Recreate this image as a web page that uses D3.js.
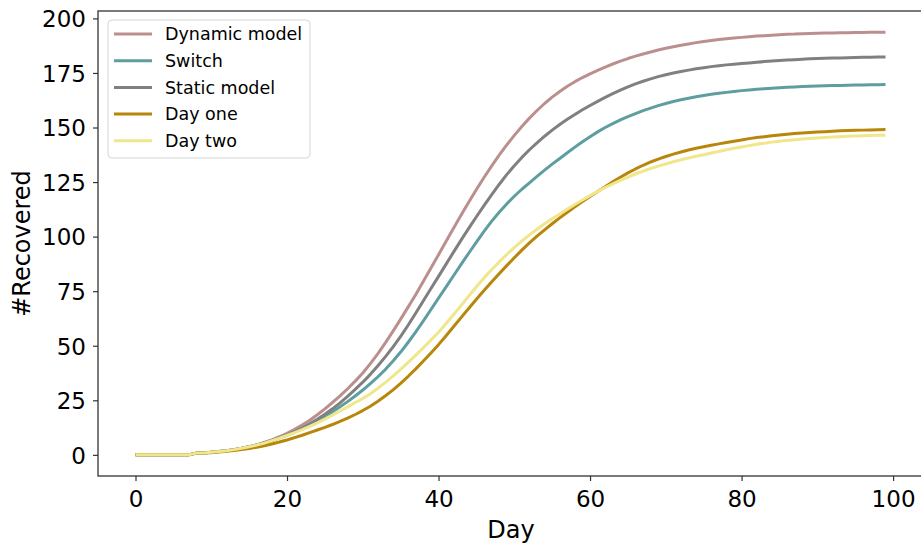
<!DOCTYPE html>
<html>
<head>
<meta charset="utf-8">
<script src="https://cdn.jsdelivr.net/npm/d3@7"></script>
<style>
  html, body { margin: 0; padding: 0; background: #ffffff; }
  svg { display: block; font-family: "DejaVu Sans", sans-serif; }
</style>
</head>
<body>
<div id="chart"></div>
<script>
// Cumulative recovered counts per day (days 0..99) for each scenario.
const days = d3.range(0, 100);

const dynamicModel = [
  0, 0, 0, 0, 0, 0, 0, 0, 0.8, 0.9,
  1.2, 1.5, 1.9, 2.4, 3.0, 3.7, 4.6, 5.7, 6.9, 8.3,
  9.9, 11.7, 13.7, 15.9, 18.4, 21.1, 24.0, 27.0, 30.3, 33.8,
  37.5, 41.8, 46.4, 51.4, 56.7, 62.2, 67.8, 73.5, 79.6, 85.6,
  91.7, 97.9, 104.0, 110.0, 115.9, 121.6, 127.1, 132.3, 137.3, 142.0,
  146.4, 150.5, 154.3, 157.8, 161.0, 163.9, 166.5, 168.9, 171.0, 172.9,
  174.6, 176.2, 177.7, 179.1, 180.4, 181.6, 182.7, 183.7, 184.6, 185.5,
  186.3, 187.0, 187.7, 188.3, 188.9, 189.4, 189.9, 190.3, 190.7, 191.0,
  191.3, 191.6, 191.9, 192.1, 192.3, 192.5, 192.7, 192.8, 193.0, 193.1,
  193.2, 193.3, 193.3, 193.4, 193.4, 193.5, 193.5, 193.6, 193.6, 193.7
];

const switchModel = [
  0, 0, 0, 0, 0, 0, 0, 0, 0.8, 0.9,
  1.2, 1.5, 1.9, 2.4, 3.0, 3.7, 4.5, 5.5, 6.6, 7.8,
  9.0, 10.4, 12.0, 13.7, 15.6, 17.6, 19.7, 22.0, 24.4, 27.0,
  29.7, 32.6, 35.8, 39.2, 43.0, 47.1, 51.6, 56.4, 61.4, 66.6,
  71.8, 77.0, 82.2, 87.4, 92.5, 97.5, 102.4, 107.0, 111.2, 115.0,
  118.5, 121.7, 124.6, 127.6, 130.5, 133.2, 135.8, 138.4, 141.0, 143.5,
  145.8, 148.0, 150.0, 151.8, 153.5, 155.0, 156.4, 157.7, 158.9, 160.0,
  161.0, 161.9, 162.7, 163.4, 164.1, 164.7, 165.2, 165.7, 166.1, 166.5,
  166.9, 167.2, 167.5, 167.8, 168.0, 168.2, 168.4, 168.6, 168.8, 168.9,
  169.0, 169.1, 169.2, 169.3, 169.4, 169.5, 169.5, 169.6, 169.6, 169.7
];

const staticModel = [
  0, 0, 0, 0, 0, 0, 0, 0, 0.8, 0.9,
  1.2, 1.5, 1.9, 2.4, 3.0, 3.7, 4.5, 5.5, 6.6, 7.8,
  9.1, 10.6, 12.3, 14.2, 16.3, 18.6, 21.1, 23.8, 26.8, 30.0,
  33.3, 36.9, 40.8, 45.0, 49.5, 54.3, 59.5, 65.0, 70.6, 76.2,
  81.8, 87.4, 93.0, 98.5, 103.9, 109.1, 114.2, 119.1, 123.9, 128.4,
  132.5, 136.3, 139.8, 143.0, 146.0, 148.8, 151.4, 153.8, 156.0, 158.1,
  160.1, 162.0, 163.8, 165.5, 167.1, 168.6, 170.0, 171.2, 172.3, 173.3,
  174.2, 175.0, 175.7, 176.3, 176.9, 177.4, 177.9, 178.3, 178.7, 179.0,
  179.3, 179.6, 179.9, 180.2, 180.5, 180.7, 180.9, 181.1, 181.3, 181.5,
  181.6, 181.7, 181.8, 181.9, 182.0, 182.1, 182.2, 182.2, 182.3, 182.3
];

const dayOne = [
  0, 0, 0, 0, 0, 0, 0, 0, 0.7, 0.8,
  1.0, 1.3, 1.6, 2.0, 2.4, 2.9, 3.5, 4.2, 5.0, 5.9,
  6.8, 7.9, 9.0, 10.2, 11.4, 12.6, 13.9, 15.3, 16.8, 18.5,
  20.3, 22.3, 24.6, 27.1, 29.8, 32.8, 36.0, 39.4, 43.0, 46.7,
  50.5, 54.6, 58.8, 63.0, 67.2, 71.3, 75.3, 79.2, 83.0, 86.7,
  90.3, 93.8, 97.1, 100.2, 103.1, 105.9, 108.6, 111.2, 113.7, 116.1,
  118.4, 120.7, 122.9, 125.1, 127.2, 129.2, 131.0, 132.7, 134.2, 135.5,
  136.7, 137.8, 138.8, 139.7, 140.5, 141.2, 141.9, 142.5, 143.1, 143.7,
  144.3, 144.9, 145.4, 145.8, 146.2, 146.6, 146.9, 147.2, 147.5, 147.7,
  147.9, 148.1, 148.3, 148.5, 148.6, 148.7, 148.8, 148.9, 149.0, 149.1
];

const dayTwo = [
  0, 0, 0, 0, 0, 0, 0, 0, 0.8, 0.9,
  1.2, 1.5, 1.9, 2.4, 3.0, 3.7, 4.5, 5.4, 6.5, 7.6,
  8.9, 10.2, 11.6, 13.1, 14.7, 16.4, 18.2, 20.1, 22.0, 24.0,
  25.8, 28.0, 30.5, 33.2, 36.1, 39.2, 42.4, 45.7, 49.1, 52.6,
  56.2, 60.2, 64.3, 68.5, 72.8, 77.0, 81.0, 84.8, 88.4, 91.8,
  95.0, 98.0, 100.8, 103.4, 105.9, 108.2, 110.4, 112.6, 114.7, 116.8,
  118.8, 120.7, 122.5, 124.2, 125.8, 127.3, 128.7, 130.0, 131.2, 132.3,
  133.3, 134.3, 135.2, 136.0, 136.8, 137.5, 138.3, 139.0, 139.8, 140.5,
  141.1, 141.7, 142.3, 142.8, 143.3, 143.7, 144.1, 144.4, 144.7, 145.0,
  145.2, 145.4, 145.6, 145.8, 146.0, 146.1, 146.2, 146.3, 146.4, 146.5
];

const seriesNames = ["Dynamic model", "Switch", "Static model", "Day one", "Day two"];
const seriesValues = [dynamicModel, switchModel, staticModel, dayOne, dayTwo];
const seriesColors = ["#bc8f8f", "#5f9ea0", "#808080", "#b8860b", "#f0e68c"];

const xTicks = [0, 20, 40, 60, 80, 100];
const yTicks = [0, 25, 50, 75, 100, 125, 150, 175, 200];

const xLabel = "Day";
const yLabel = "#Recovered";

// ---- layout ----
const W = 921, H = 544;
const plot = { left: 98, top: 11, right: 923, bottom: 476 };

const svg = d3.select("#chart").append("svg")
  .attr("width", W).attr("height", H);

// Axis limits padded by 5% of the data span on each side
const xMin = d3.min(days), xMax = d3.max(days);
const xPad = (xMax - xMin) * 0.05;
const allVals = seriesValues.flat();
const yMin = d3.min(allVals), yMax = d3.max(allVals);
const yPad = (yMax - yMin) * 0.05;

const x = d3.scaleLinear().domain([xMin - xPad, xMax + xPad]).range([plot.left, plot.right]);
const y = d3.scaleLinear().domain([yMin - yPad, yMax + yPad]).range([plot.bottom, plot.top]);

const spineColor = "#333333";
const tickFont = 23;

// ---- lines ----
const line = d3.line()
  .x((d, i) => x(days[i]))
  .y(d => y(d));

const linesG = svg.append("g");
seriesValues.forEach((vals, k) => {
  linesG.append("path")
    .datum(vals)
    .attr("d", line)
    .attr("fill", "none")
    .attr("stroke", seriesColors[k])
    .attr("stroke-width", 3)
    .attr("stroke-linejoin", "round")
    .attr("stroke-linecap", "butt");
});

// ---- axes ----
const xAxis = d3.axisBottom(x).tickValues(xTicks).tickSize(5).tickFormat(d3.format("d"));
const yAxis = d3.axisLeft(y).tickValues(yTicks).tickSize(5).tickPadding(7).tickFormat(d3.format("d"));

const gx = svg.append("g").attr("transform", `translate(0,${plot.bottom})`).call(xAxis);
const gy = svg.append("g").attr("transform", `translate(${plot.left},0)`).call(yAxis);

[gx, gy].forEach(g => {
  g.select(".domain").remove();
  g.selectAll(".tick line").attr("stroke", spineColor).attr("stroke-width", 1.2);
  g.selectAll(".tick text")
    .attr("fill", "#000")
    .style("font-family", "'DejaVu Sans', sans-serif")
    .style("font-size", tickFont + "px");
});
gx.selectAll(".tick text").attr("y", 31).attr("dy", 0);
gy.selectAll(".tick text").attr("dy", "0.36em");

// spines (full frame)
svg.append("rect")
  .attr("x", plot.left).attr("y", plot.top)
  .attr("width", plot.right - plot.left).attr("height", plot.bottom - plot.top)
  .attr("fill", "none").attr("stroke", spineColor).attr("stroke-width", 1.3);

// ---- axis titles ----
svg.append("text")
  .attr("x", 511)
  .attr("y", 538)
  .attr("text-anchor", "middle")
  .style("font-size", "24px")
  .attr("fill", "#000")
  .text(xLabel);

svg.append("text")
  .attr("transform", `translate(30,${(plot.top + plot.bottom) / 2}) rotate(-90)`)
  .attr("text-anchor", "middle")
  .style("font-size", "24px")
  .attr("fill", "#000")
  .text(yLabel);

// ---- legend ----
const leg = svg.append("g").attr("transform", "translate(108,20)");
const rowH = 26.7;
leg.append("rect")
  .attr("x", 0).attr("y", 0)
  .attr("width", 202).attr("height", 138)
  .attr("rx", 4).attr("ry", 4)
  .attr("fill", "#ffffff").attr("fill-opacity", 0.8)
  .attr("stroke", "#d6d6d6").attr("stroke-width", 1);

seriesNames.forEach((name, k) => {
  const cy = 14 + k * rowH;
  leg.append("line")
    .attr("x1", 6).attr("x2", 44)
    .attr("y1", cy).attr("y2", cy)
    .attr("stroke", seriesColors[k]).attr("stroke-width", 3);
  leg.append("text")
    .attr("x", 57).attr("y", cy)
    .attr("dy", "0.36em")
    .style("font-size", "17.5px")
    .attr("fill", "#000")
    .text(name);
});
</script>
</body>
</html>
